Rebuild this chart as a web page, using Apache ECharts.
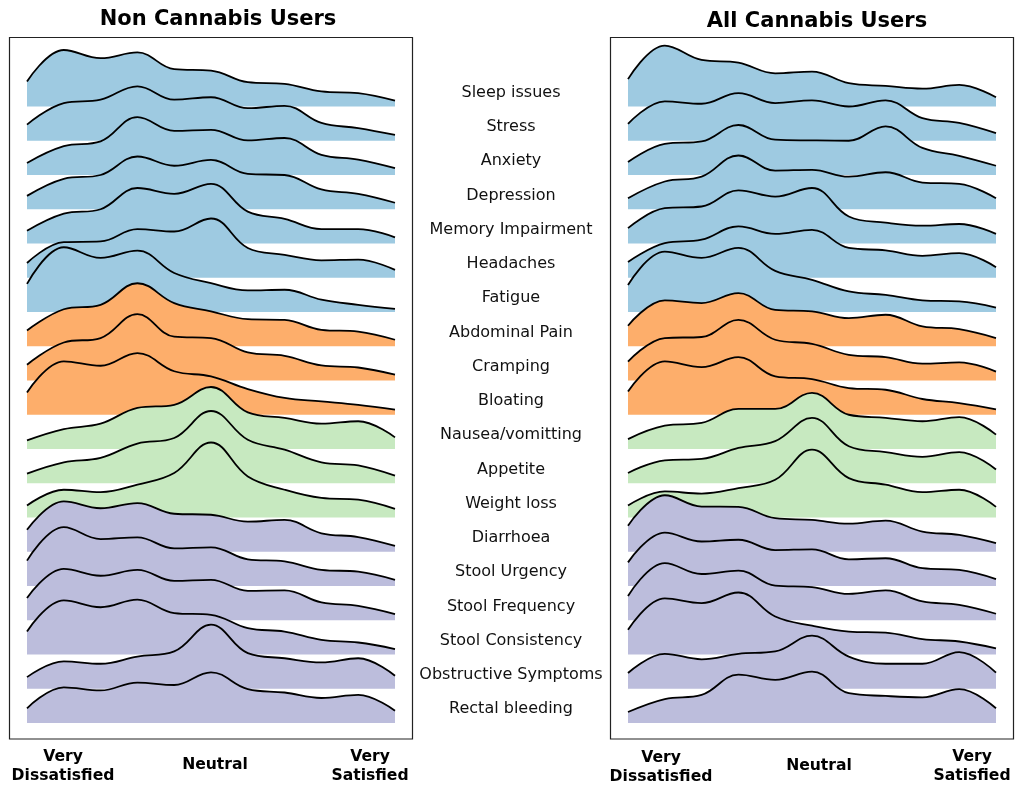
<!DOCTYPE html>
<html><head><meta charset="utf-8">
<script src="https://cdn.jsdelivr.net/npm/echarts@6/dist/echarts.min.js"></script>
<style>html,body{margin:0;padding:0;background:#fff}#c{width:1016px;height:787px}</style>
</head><body><div id="c"></div>
<script>
// ---------- DATA ----------
const categories = ['Sleep issues','Stress','Anxiety','Depression','Memory Impairment','Headaches','Fatigue',
  'Abdominal Pain','Cramping','Bloating','Nausea/vomitting','Appetite','Weight loss',
  'Diarrhoea','Stool Urgency','Stool Frequency','Stool Consistency','Obstructive Symptoms','Rectal bleeding'];
const panelTitles = ['Non Cannabis Users','All Cannabis Users'];
const xTickLabels = ['Very\nDissatisfied','Neutral','Very\nSatisfied'];
// satisfaction scale positions where density heights were read
const xSamples = [0.5,1,1.5,2,2.5,3,3.5,4,4.5,5,5.5];
// density heights (in ridge-spacing units), one row per category
const nonUsersDensity = [
  [0.73,1.65,1.41,1.58,1.09,1.05,0.71,0.66,0.44,0.39,0.17], // Sleep issues
  [0.47,1.10,1.20,1.59,1.20,1.27,0.95,1.02,0.52,0.37,0.17], // Stress
  [0.35,0.84,0.98,1.69,1.29,1.32,1.01,1.08,0.59,0.45,0.20], // Anxiety
  [0.39,0.89,1.00,1.54,1.27,1.44,1.03,1.00,0.58,0.45,0.19], // Depression
  [0.37,0.87,1.00,1.62,1.45,1.74,0.93,0.72,0.42,0.42,0.18], // Memory Impairment
  [0.43,1.04,1.06,1.42,1.35,1.73,0.87,0.67,0.51,0.53,0.23], // Headaches
  [0.82,1.89,1.58,1.79,1.14,0.84,0.63,0.65,0.36,0.21,0.09], // Fatigue
  [0.46,1.08,1.21,1.84,1.26,1.02,0.79,0.77,0.48,0.43,0.19], // Abdominal Pain
  [0.46,1.11,1.24,1.94,1.28,1.24,0.82,0.72,0.44,0.38,0.17], // Cramping
  [0.65,1.56,1.43,1.80,1.27,1.12,0.75,0.49,0.39,0.29,0.15], // Bloating
  [0.25,0.58,0.74,1.20,1.29,1.81,1.07,0.91,0.74,0.81,0.34], // Nausea/vomitting
  [0.28,0.61,0.74,1.16,1.32,2.11,1.27,0.98,0.61,0.52,0.22], // Appetite
  [0.35,0.81,0.74,0.96,1.30,2.19,1.20,0.81,0.57,0.52,0.25], // Weight loss
  [0.64,1.47,1.27,1.42,1.11,1.08,0.88,0.93,0.54,0.43,0.17], // Diarrhoea
  [0.74,1.72,1.37,1.42,1.10,1.13,0.78,0.72,0.47,0.42,0.18], // Stool Urgency
  [0.65,1.50,1.30,1.47,1.15,1.18,0.86,0.87,0.52,0.42,0.18], // Stool Frequency
  [0.67,1.58,1.38,1.60,1.21,1.16,0.77,0.67,0.43,0.35,0.16], // Stool Consistency
  [0.34,0.80,0.73,0.94,1.09,1.87,1.04,0.89,0.77,0.89,0.38], // Obstructive Symptoms
  [0.43,1.04,0.95,1.18,1.11,1.48,0.99,0.89,0.73,0.82,0.36]  // Rectal bleeding
];
const cannabisUsersDensity = [
  [0.80,1.78,1.36,1.28,0.97,1.02,0.68,0.60,0.52,0.63,0.27], // Sleep issues
  [0.49,1.15,1.08,1.39,1.10,1.18,1.00,1.18,0.66,0.52,0.22], // Stress
  [0.38,0.91,0.98,1.46,1.03,1.01,1.00,1.42,0.79,0.56,0.27], // Anxiety
  [0.32,0.81,0.95,1.57,1.13,1.15,0.95,1.08,0.78,0.74,0.32], // Depression
  [0.45,1.03,1.08,1.55,1.37,1.62,0.79,0.61,0.52,0.57,0.28], // Memory Impairment
  [0.46,1.01,1.11,1.50,1.28,1.40,0.87,0.80,0.64,0.72,0.31], // Headaches
  [0.79,1.76,1.58,1.87,1.20,0.94,0.60,0.50,0.34,0.31,0.13], // Fatigue
  [0.60,1.34,1.26,1.55,1.06,1.02,0.82,0.92,0.58,0.50,0.24], // Abdominal Pain
  [0.55,1.24,1.27,1.77,1.19,1.07,0.75,0.68,0.49,0.53,0.26], // Cramping
  [0.68,1.56,1.39,1.68,1.12,1.04,0.78,0.73,0.46,0.34,0.16], // Bloating
  [0.29,0.68,0.76,1.17,1.17,1.64,1.00,0.91,0.81,0.93,0.42], // Nausea/vomitting
  [0.30,0.67,0.71,1.03,1.23,1.91,1.08,0.91,0.77,0.91,0.40], // Appetite
  [0.35,0.76,0.70,0.86,1.10,1.98,1.15,0.96,0.74,0.81,0.31], // Weight loss
  [0.76,1.65,1.32,1.31,0.98,0.93,0.82,0.91,0.59,0.49,0.25], // Diarrhoea
  [0.69,1.56,1.30,1.35,1.05,1.07,0.78,0.81,0.52,0.47,0.20], // Stool Urgency
  [0.71,1.67,1.35,1.45,1.01,0.97,0.77,0.87,0.55,0.45,0.19], // Stool Frequency
  [0.72,1.64,1.50,1.81,1.11,0.84,0.67,0.64,0.45,0.38,0.18], // Stool Consistency
  [0.46,1.02,0.86,1.02,1.09,1.55,0.94,0.73,0.73,1.07,0.47], // Obstructive Symptoms
  [0.32,0.70,0.82,1.41,1.26,1.50,0.87,0.79,0.75,0.99,0.43]  // Rectal bleeding
];

// ---------- STYLE / LAYOUT ----------
function ridgeColor(i){
  if (i < 7) return '#9ecae1';
  if (i < 10) return '#fdae6b';
  if (i < 13) return '#c7e9c0';
  return '#bcbddc';
}
const N = categories.length;
const rowH = 34.25, gridTop = 38, yMax = N + 1;   // ridge spacing in px
const panels = [
  {data: nonUsersDensity, left: 27, frameX: 9.5, titleX: 218, titleY: 20,
   tickX: [63, 215, 370], tickY: [766, 765, 766]},
  {data: cannabisUsersDensity, left: 628, frameX: 610.5, titleX: 817, titleY: 22,
   tickX: [661, 819, 972], tickY: [767, 766, 766]}
];
const plotW = 368;

const grids = [], xAxes = [], yAxes = [], series = [], graphics = [];
panels.forEach((p, pi) => {
  grids.push({left: p.left, top: gridTop, width: plotW, height: rowH * yMax});
  xAxes.push({type: 'value', gridIndex: pi, min: 0.5, max: 5.5, show: false});
  yAxes.push({type: 'value', gridIndex: pi, min: 0, max: yMax, show: false});
  p.data.forEach((row, i) => {
    const base = N - 1 - i;
    series.push({
      type: 'line', name: categories[i], xAxisIndex: pi, yAxisIndex: pi,
      data: xSamples.map((x, j) => [x, base + row[j]]),
      smooth: 0.4, symbol: 'none', silent: true, z: 2 + i,
      lineStyle: {color: '#000', width: 1.8},
      areaStyle: {color: ridgeColor(i), opacity: 1, origin: base}
    });
  });
  graphics.push({type: 'rect', shape: {x: p.frameX, y: 37.5, width: 403, height: 701.5},
    style: {fill: 'none', stroke: '#222', lineWidth: 1.2}, z: 100});
  graphics.push({type: 'text', x: p.titleX, y: p.titleY, z: 100,
    style: {text: panelTitles[pi], font: 'bold 21px "DejaVu Sans"', fill: '#000',
      textAlign: 'center', textVerticalAlign: 'middle'}});
  xTickLabels.forEach((t, k) => {
    graphics.push({type: 'text', x: p.tickX[k], y: p.tickY[k], z: 100,
      style: {text: t, font: 'bold 15.6px "DejaVu Sans"', fill: '#000', lineHeight: 19,
        textAlign: 'center', textVerticalAlign: 'middle'}});
  });
});
categories.forEach((c, i) => {
  graphics.push({type: 'text', x: 511, y: gridTop + rowH * (2 + i) - 13.8, z: 100,
    style: {text: c, font: '16px "DejaVu Sans"', fill: '#111',
      textAlign: 'center', textVerticalAlign: 'middle'}});
});

const chart = echarts.init(document.getElementById('c'));
chart.setOption({
  animation: false,
  backgroundColor: '#fff',
  grid: grids, xAxis: xAxes, yAxis: yAxes, series: series, graphic: graphics
});
</script></body></html>
